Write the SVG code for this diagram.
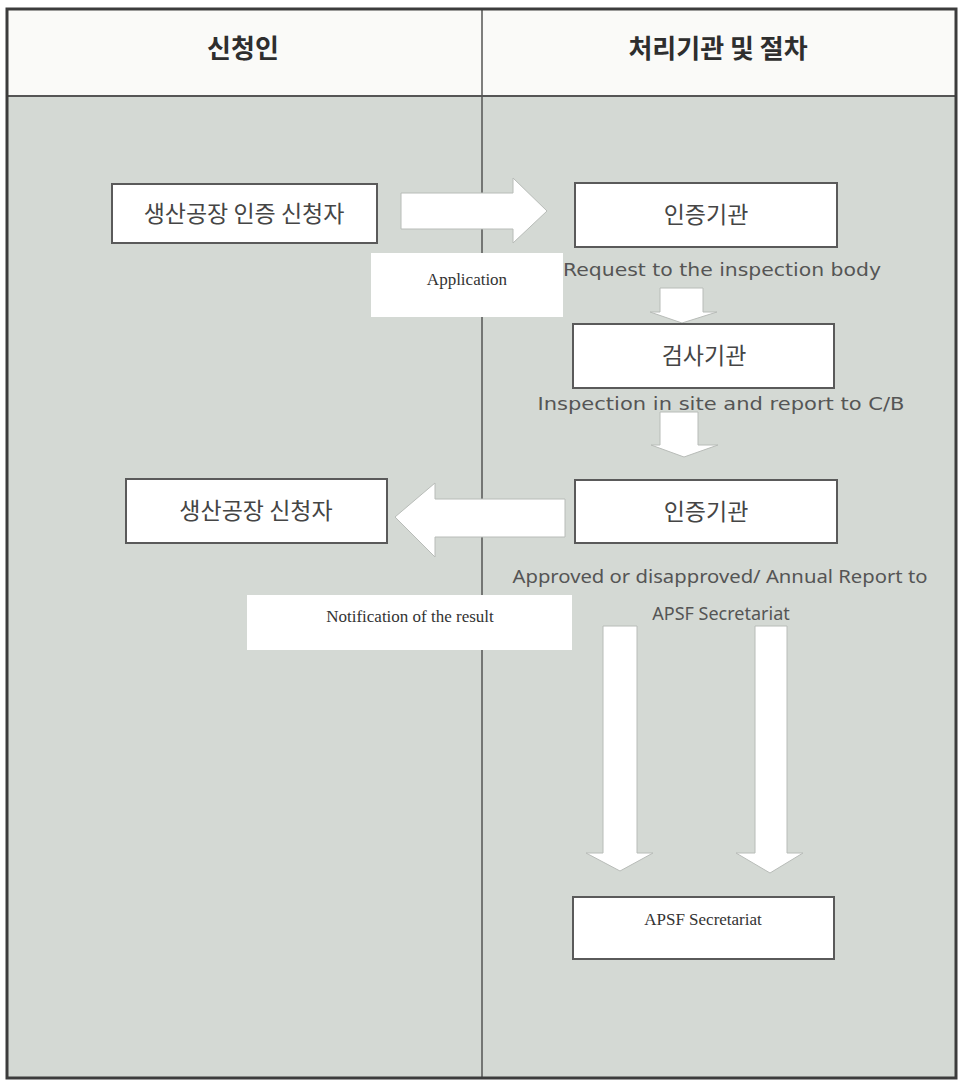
<svg xmlns="http://www.w3.org/2000/svg" width="961" height="1083" viewBox="0 0 961 1083">
<style>
.box{fill:#ffffff;stroke:#5a5a5a;stroke-width:2}
.arrow{fill:#ffffff;stroke:#b8bcb8;stroke-width:1}
.lbl{fill:#ffffff;stroke:none}
.kr{font-family:"Noto Sans CJK KR","Noto Sans",sans-serif;fill:#454545;text-anchor:middle}
.hd{font-family:"Noto Sans CJK KR","Noto Sans",sans-serif;font-weight:700;fill:#2e2e2e;text-anchor:middle;font-size:26px}
.en{font-family:"DejaVu Sans","Noto Sans",sans-serif;fill:#555;text-anchor:middle;font-size:18px}
.en2{font-family:"Noto Sans","Open Sans",sans-serif;fill:#555;text-anchor:middle;font-size:18px}
.sf{font-family:"Liberation Serif",serif;fill:#333;text-anchor:middle;font-size:17px}
</style>
<rect x="0" y="0" width="961" height="1083" fill="#ffffff"/>
<g id="table">
<rect x="7" y="96" width="949" height="982" fill="#d4d9d4"/>
<rect x="7" y="9" width="949" height="87" fill="#fafaf8"/>
<line x1="7" y1="96" x2="956" y2="96" stroke="#555" stroke-width="2"/>
<line x1="482" y1="9" x2="482" y2="1078" stroke="#555" stroke-width="1.5"/>
<rect x="7" y="9" width="949" height="1069" fill="none" stroke="#3c3c3c" stroke-width="3"/>
<text class="hd" x="243" y="58">신청인</text>
<text class="hd" x="718" y="58">처리기관 및 절차</text>
</g>
<g id="connectors">
<polygon class="arrow" points="401,193 513,193 513,178 547,211 513,243 513,229 401,229"/>
<polygon class="arrow" points="660,288 703,288 703,312 717,312 682,323 650,312 660,312"/>
<polygon class="arrow" points="660,412 698,412 698,445 718,445 684,457 651,445 660,445"/>
<polygon class="arrow" points="565,499 435,499 435,483 395,517 435,557 435,537 565,537"/>
<polygon class="arrow" points="603,626 637,626 637,853 653,853 620,871 586,853 603,853"/>
<polygon class="arrow" points="755,626 787,626 787,853 803,853 770,873 736,853 755,853"/>
</g>
<g id="label-application">
<rect class="lbl" x="371" y="253" width="192" height="64"/>
<text class="sf" x="467" y="285">Application</text>
</g>
<g id="label-notification">
<rect class="lbl" x="247" y="595" width="325" height="55"/>
<text class="sf" x="410" y="622">Notification of the result</text>
</g>
<g id="node-applicant">
<rect class="box" x="112" y="184" width="265" height="59"/>
<text class="kr" x="244" y="222" font-size="23">생산공장 인증 신청자</text>
</g>
<g id="node-cb1">
<rect class="box" x="575" y="183" width="262" height="64"/>
<text class="kr" x="706" y="223" font-size="23">인증기관</text>
</g>
<text class="en" x="722" y="276" textLength="318" lengthAdjust="spacingAndGlyphs">Request to the inspection body</text>
<g id="node-ib">
<rect class="box" x="573" y="324" width="261" height="64"/>
<text class="kr" x="704" y="364" font-size="23">검사기관</text>
</g>
<text class="en" x="721" y="410" textLength="367" lengthAdjust="spacingAndGlyphs">Inspection in site and report to C/B</text>
<g id="node-applicant2">
<rect class="box" x="126" y="479" width="261" height="64"/>
<text class="kr" x="256" y="519" font-size="23">생산공장 신청자</text>
</g>
<g id="node-cb2">
<rect class="box" x="575" y="480" width="262" height="63"/>
<text class="kr" x="706" y="520" font-size="23">인증기관</text>
</g>
<text class="en2" x="720" y="583" textLength="415" lengthAdjust="spacingAndGlyphs">Approved or disapproved/ Annual Report to</text>
<text class="en2" x="721" y="620">APSF Secretariat</text>
<g id="node-apsf">
<rect class="box" x="573" y="897" width="261" height="62"/>
<text class="sf" x="703" y="925">APSF Secretariat</text>
</g>
</svg>
